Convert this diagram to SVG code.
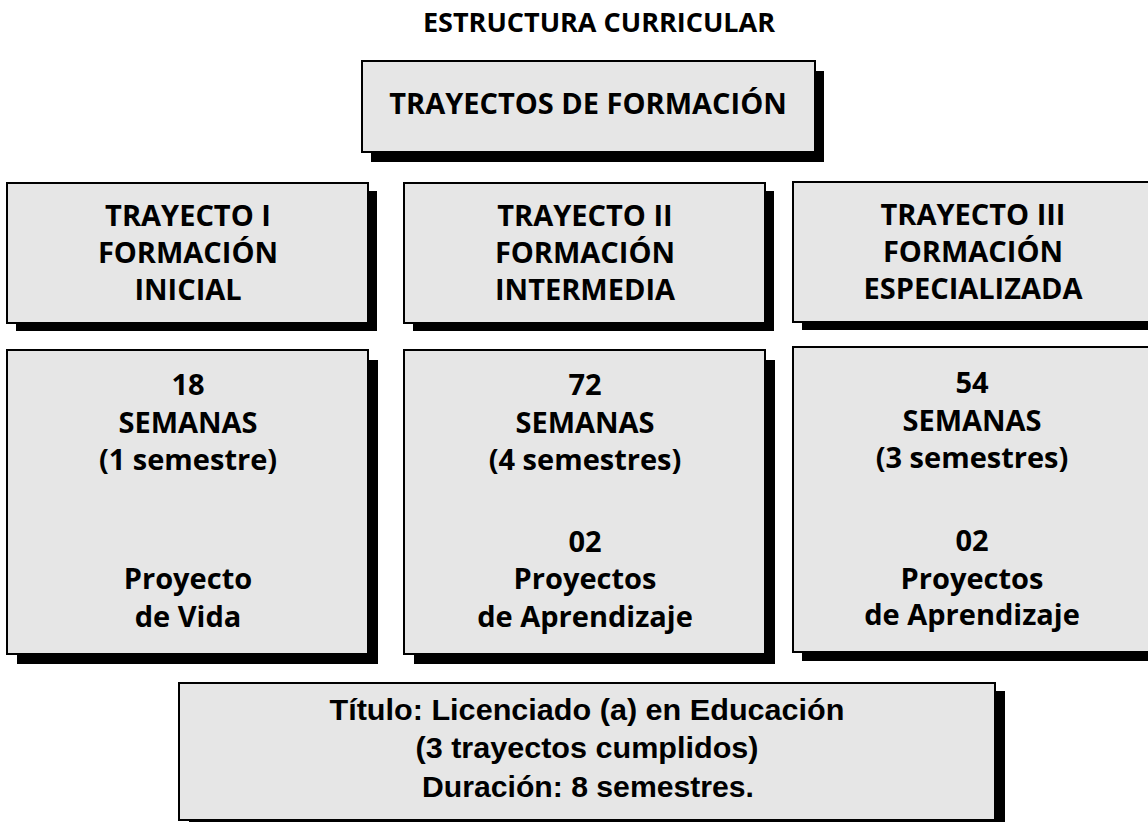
<svg xmlns="http://www.w3.org/2000/svg" width="1148" height="822" viewBox="0 0 1148 822">
<style>
.box{fill:#e6e6e6;stroke:#000;stroke-width:2}
.sh{fill:#000}
.t{font-family:"Open Sans","Liberation Sans",sans-serif;font-weight:700;font-size:29px;fill:#000;text-anchor:middle}
.title{font-family:"Open Sans","Liberation Sans",sans-serif;font-weight:700;font-size:27px;fill:#000;text-anchor:middle}
.c{font-family:"Liberation Sans",sans-serif;font-weight:700;font-size:30px;fill:#000;text-anchor:middle}
</style>
<rect width="1148" height="822" fill="#fff"/>
<text class="title" x="599" y="32">ESTRUCTURA CURRICULAR</text>
<g id="trayectos">
<rect class="sh" x="371" y="71" width="453" height="91"/>
<rect class="box" x="362" y="61" width="453" height="91"/>
<text class="t" x="588" y="114">TRAYECTOS DE FORMACIÓN</text>
</g>
<g id="t1">
<rect class="sh" x="16" y="191" width="361" height="140"/>
<rect class="box" x="7" y="183" width="361" height="140"/>
<text class="t" x="188" y="226">TRAYECTO I</text>
<text class="t" x="188" y="263">FORMACIÓN</text>
<text class="t" x="188" y="300">INICIAL</text>
</g>
<g id="t2">
<rect class="sh" x="413" y="191" width="361" height="140"/>
<rect class="box" x="404" y="183" width="361" height="140"/>
<text class="t" x="585" y="226">TRAYECTO II</text>
<text class="t" x="585" y="263">FORMACIÓN</text>
<text class="t" x="585" y="300">INTERMEDIA</text>
</g>
<g id="t3">
<rect class="sh" x="802" y="190" width="360" height="140"/>
<rect class="box" x="793" y="182" width="360" height="140"/>
<text class="t" x="973" y="225">TRAYECTO III</text>
<text class="t" x="973" y="262">FORMACIÓN</text>
<text class="t" x="973" y="299">ESPECIALIZADA</text>
</g>
<g id="d1">
<rect class="sh" x="17" y="360" width="361" height="304"/>
<rect class="box" x="7" y="350" width="361" height="304"/>
<text class="t" x="188" y="395">18</text>
<text class="t" x="188" y="433">SEMANAS</text>
<text class="t" x="188" y="470">(1 semestre)</text>
<text class="t" x="188" y="589">Proyecto</text>
<text class="t" x="188" y="627">de Vida</text>
</g>
<g id="d2">
<rect class="sh" x="414" y="360" width="361" height="304"/>
<rect class="box" x="404" y="350" width="361" height="304"/>
<text class="t" x="585" y="395">72</text>
<text class="t" x="585" y="433">SEMANAS</text>
<text class="t" x="585" y="470">(4 semestres)</text>
<text class="t" x="585" y="552">02</text>
<text class="t" x="585" y="589">Proyectos</text>
<text class="t" x="585" y="627">de Aprendizaje</text>
</g>
<g id="d3">
<rect class="sh" x="802" y="356" width="360" height="305"/>
<rect class="box" x="793" y="347" width="360" height="305"/>
<text class="t" x="972" y="393">54</text>
<text class="t" x="972" y="431">SEMANAS</text>
<text class="t" x="972" y="468">(3 semestres)</text>
<text class="t" x="972" y="551">02</text>
<text class="t" x="972" y="589">Proyectos</text>
<text class="t" x="972" y="625">de Aprendizaje</text>
</g>
<g id="titulo">
<rect class="sh" x="189" y="691" width="816" height="140"/>
<rect class="box" x="179" y="683" width="816" height="137"/>
<text class="c" x="587" y="720" textLength="515" lengthAdjust="spacingAndGlyphs">Título: Licenciado (a) en Educación</text>
<text class="c" x="587" y="758" textLength="343" lengthAdjust="spacingAndGlyphs">(3 trayectos cumplidos)</text>
<text class="c" x="588" y="797" textLength="332" lengthAdjust="spacingAndGlyphs">Duración: 8 semestres.</text>
</g>
<g id="connectors"/>
</svg>
